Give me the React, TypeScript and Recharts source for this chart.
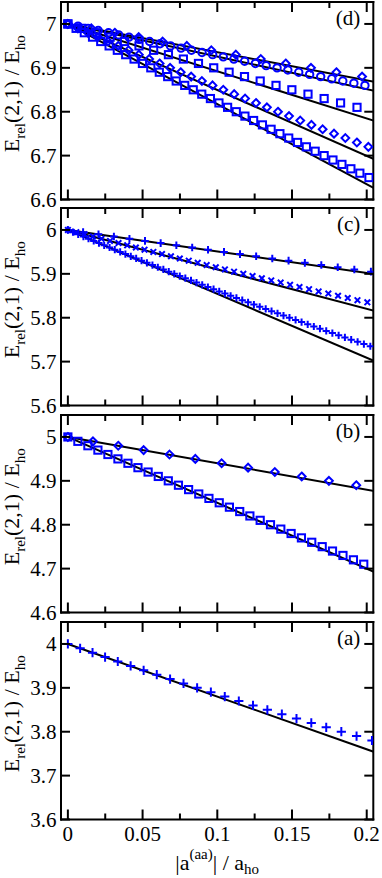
import React from 'react';
import { ComposedChart, Scatter, Line, XAxis, YAxis } from 'recharts';

const FONT = '"Liberation Serif", "Times New Roman", Times, serif';
const BLUE = '#0000ff';
const W = 382;
const PLOT_H = 197.5;
const PAD = 10;
const BOTTOM_PAD = 20;
const LEFT_W = 61;
const RIGHT_W = 8.7;

// ---------- axes ----------
const xDomain: [number, number] = [-0.0046, 0.2044];
const xTicks = [0, 0.025, 0.05, 0.075, 0.1, 0.125, 0.15, 0.175, 0.2];
const xTickLabels = ['0', '', '0.05', '', '0.1', '', '0.15', '', '0.2'];

// ---------- panel (a) ----------
const aPlusX = [0, 0.0082, 0.0165, 0.0249, 0.0334, 0.042, 0.0507, 0.0595, 0.0684, 0.0774, 0.0865, 0.0957, 0.105, 0.1144, 0.1239, 0.1335, 0.1432, 0.153, 0.1629, 0.1729, 0.183, 0.1932, 0.2035];
const aPlusY = [4.0, 3.99, 3.98, 3.97, 3.96, 3.95, 3.94, 3.93, 3.92, 3.91, 3.9, 3.89, 3.88, 3.87, 3.86, 3.85, 3.84, 3.83, 3.82, 3.81, 3.8, 3.79, 3.78];
const aLineX = [0, 0.21];
const aLineY = [4.0, 3.748];
const aTicks = [3.6, 3.7, 3.8, 3.9, 4];

// ---------- panel (b) ----------
const bSquareX = [0, 0.0067, 0.0134, 0.0201, 0.0268, 0.0335, 0.0402, 0.0469, 0.0537, 0.0605, 0.0672, 0.074, 0.0808, 0.0876, 0.0944, 0.1013, 0.1081, 0.115, 0.1218, 0.1287, 0.1356, 0.1425, 0.1494, 0.1563, 0.1632, 0.1702, 0.1771, 0.1841, 0.1911, 0.198];
const bSquareY = [5.0, 4.99, 4.98, 4.97, 4.96, 4.95, 4.94, 4.93, 4.92, 4.91, 4.9, 4.89, 4.88, 4.87, 4.86, 4.85, 4.84, 4.83, 4.82, 4.81, 4.8, 4.79, 4.78, 4.77, 4.76, 4.75, 4.74, 4.73, 4.72, 4.71];
const bDiamondX = [0, 0.0168, 0.0337, 0.0507, 0.068, 0.0853, 0.1029, 0.1206, 0.1385, 0.1565, 0.1747, 0.193];
const bDiamondY = [5.0, 4.99, 4.98, 4.97, 4.96, 4.95, 4.94, 4.93, 4.92, 4.91, 4.9, 4.89];
const bLine1X = [0, 0.21];
const bLine1Y = [5.0, 4.874];
const bLine2X = [0, 0.21];
const bLine2Y = [5.0, 4.685];
const bTicks = [4.6, 4.7, 4.8, 4.9, 5];

// ---------- panel (c) ----------
const cPlusUpperX = [0, 0.0102, 0.0205, 0.0308, 0.0412, 0.0516, 0.0621, 0.0726, 0.0832, 0.0938, 0.1045, 0.1152, 0.126, 0.1368, 0.1477, 0.1586, 0.1696, 0.1806, 0.1917, 0.2028];
const cPlusUpperY = [6.0, 5.995, 5.99, 5.985, 5.98, 5.975, 5.97, 5.965, 5.96, 5.955, 5.95, 5.945, 5.94, 5.935, 5.93, 5.925, 5.92, 5.915, 5.91, 5.905];
const cCrossX = [0, 0.0056, 0.0112, 0.0168, 0.0225, 0.0282, 0.0339, 0.0397, 0.0455, 0.0513, 0.0572, 0.063, 0.069, 0.0749, 0.0809, 0.0869, 0.0929, 0.099, 0.1051, 0.1112, 0.1174, 0.1236, 0.1298, 0.1361, 0.1424, 0.1487, 0.155, 0.1614, 0.1678, 0.1743, 0.1808, 0.1873, 0.1938, 0.2004];
const cCrossY = [6.0, 5.995, 5.99, 5.985, 5.98, 5.975, 5.97, 5.965, 5.96, 5.955, 5.95, 5.945, 5.94, 5.935, 5.93, 5.925, 5.92, 5.915, 5.91, 5.905, 5.9, 5.895, 5.89, 5.885, 5.88, 5.875, 5.87, 5.865, 5.86, 5.855, 5.85, 5.845, 5.84, 5.835];
const cPlusLowerX = [0, 0.0034, 0.0069, 0.0104, 0.0138, 0.0173, 0.0208, 0.0243, 0.0279, 0.0314, 0.035, 0.0385, 0.0421, 0.0457, 0.0493, 0.0529, 0.0566, 0.0602, 0.0639, 0.0675, 0.0712, 0.0749, 0.0786, 0.0824, 0.0861, 0.0899, 0.0937, 0.0975, 0.1013, 0.1051, 0.1089, 0.1128, 0.1167, 0.1206, 0.1245, 0.1284, 0.1324, 0.1363, 0.1403, 0.1443, 0.1483, 0.1524, 0.1564, 0.1605, 0.1646, 0.1687, 0.1729, 0.177, 0.1812, 0.1854, 0.1896, 0.1939, 0.1981, 0.2024];
const cPlusLowerY = [6.0, 5.995, 5.99, 5.985, 5.98, 5.975, 5.97, 5.965, 5.96, 5.955, 5.95, 5.945, 5.94, 5.935, 5.93, 5.925, 5.92, 5.915, 5.91, 5.905, 5.9, 5.895, 5.89, 5.885, 5.88, 5.875, 5.87, 5.865, 5.86, 5.855, 5.85, 5.845, 5.84, 5.835, 5.83, 5.825, 5.82, 5.815, 5.81, 5.805, 5.8, 5.795, 5.79, 5.785, 5.78, 5.775, 5.77, 5.765, 5.76, 5.755, 5.75, 5.745, 5.74, 5.735];
const cLine1X = [0, 0.21];
const cLine1Y = [6.0, 5.8971];
const cLine2X = [0, 0.21];
const cLine2Y = [6.0, 5.8112];
const cLine3X = [0, 0.21];
const cLine3Y = [6.0, 5.6942];
const cTicks = [5.6, 5.7, 5.8, 5.9, 6];

// ---------- panel (d) ----------
const dDiamondX = [0, 0.0157, 0.0314, 0.0474, 0.0634, 0.0796, 0.096, 0.1124, 0.1291, 0.1458, 0.1627, 0.1797, 0.1969];
const dDiamondY = [7.0, 6.99, 6.98, 6.97, 6.96, 6.95, 6.94, 6.93, 6.92, 6.91, 6.9, 6.89, 6.88];
const dCircleX = [0, 0.0068, 0.0135, 0.0203, 0.0272, 0.034, 0.0409, 0.0478, 0.0547, 0.0617, 0.0687, 0.0757, 0.0827, 0.0898, 0.0969, 0.104, 0.1111, 0.1183, 0.1255, 0.1327, 0.14, 0.1472, 0.1545, 0.1618, 0.1692, 0.1766, 0.184, 0.1914, 0.1988];
const dCircleY = [7.0, 6.995, 6.99, 6.985, 6.98, 6.975, 6.97, 6.965, 6.96, 6.955, 6.95, 6.945, 6.94, 6.935, 6.93, 6.925, 6.92, 6.915, 6.91, 6.905, 6.9, 6.895, 6.89, 6.885, 6.88, 6.875, 6.87, 6.865, 6.86];
const dSquareUpperX = [0, 0.0093, 0.0188, 0.0283, 0.0379, 0.0476, 0.0574, 0.0673, 0.0773, 0.0874, 0.0976, 0.1079, 0.1182, 0.1287, 0.1393, 0.1499, 0.1607, 0.1715, 0.1825, 0.1935];
const dSquareUpperY = [7.0, 6.99, 6.98, 6.97, 6.96, 6.95, 6.94, 6.93, 6.92, 6.91, 6.9, 6.89, 6.88, 6.87, 6.86, 6.85, 6.84, 6.83, 6.82, 6.81];
const dDiamondLowerX = [0, 0.0067, 0.0134, 0.0201, 0.0269, 0.0337, 0.0406, 0.0475, 0.0544, 0.0614, 0.0684, 0.0755, 0.0825, 0.0897, 0.0968, 0.104, 0.1113, 0.1186, 0.1259, 0.1332, 0.1406, 0.148, 0.1555, 0.163, 0.1705, 0.1781, 0.1857, 0.1934, 0.2011];
const dDiamondLowerY = [7.0, 6.99, 6.98, 6.97, 6.96, 6.95, 6.94, 6.93, 6.92, 6.91, 6.9, 6.89, 6.88, 6.87, 6.86, 6.85, 6.84, 6.83, 6.82, 6.81, 6.8, 6.79, 6.78, 6.77, 6.76, 6.75, 6.74, 6.73, 6.72];
const dSquareLowerX = [0, 0.0055, 0.011, 0.0165, 0.022, 0.0276, 0.0331, 0.0387, 0.0443, 0.0499, 0.0555, 0.0612, 0.0668, 0.0725, 0.0782, 0.0839, 0.0896, 0.0954, 0.1011, 0.1069, 0.1127, 0.1185, 0.1243, 0.1302, 0.136, 0.1419, 0.1478, 0.1537, 0.1596, 0.1655, 0.1715, 0.1774, 0.1834, 0.1894, 0.1954, 0.2015];
const dSquareLowerY = [7.0, 6.99, 6.98, 6.97, 6.96, 6.95, 6.94, 6.93, 6.92, 6.91, 6.9, 6.89, 6.88, 6.87, 6.86, 6.85, 6.84, 6.83, 6.82, 6.81, 6.8, 6.79, 6.78, 6.77, 6.76, 6.75, 6.74, 6.73, 6.72, 6.71, 6.7, 6.69, 6.68, 6.67, 6.66, 6.65];
const dLine1X = [0, 0.21];
const dLine1Y = [7.0, 6.8652];
const dLine2X = [0, 0.21];
const dLine2Y = [7.0, 6.8442];
const dLine3X = [0, 0.21];
const dLine3Y = [7.0, 6.7738];
const dLine4X = [0, 0.21];
const dLine4Y = [7.0, 6.6842];
const dLine5X = [0, 0.21];
const dLine5Y = [7.0, 6.6163];
const dTicks = [6.6, 6.7, 6.8, 6.9, 7];

type Pt = { x: number; y: number };
const zip = (xs: number[], ys: number[]): Pt[] => xs.map((x, i) => ({ x, y: ys[i] }));

// ---------- marker shapes ----------
const plusShape = (s: number) => (p: any) => (
  <path d={`M${p.cx - s},${p.cy}H${p.cx + s}M${p.cx},${p.cy - s}V${p.cy + s}`} stroke={BLUE} strokeWidth={2} fill="none" />
);
const crossShape = (s: number) => (p: any) => (
  <path d={`M${p.cx - s},${p.cy - s}L${p.cx + s},${p.cy + s}M${p.cx + s},${p.cy - s}L${p.cx - s},${p.cy + s}`} stroke={BLUE} strokeWidth={2} fill="none" />
);
const squareShape = (h: number) => (p: any) => (
  <rect x={p.cx - h} y={p.cy - h} width={2 * h} height={2 * h} stroke={BLUE} strokeWidth={2} fill="none" />
);
const diamondShape = (h: number) => (p: any) => (
  <path d={`M${p.cx},${p.cy - h}L${p.cx + h},${p.cy}L${p.cx},${p.cy + h}L${p.cx - h},${p.cy}Z`} stroke={BLUE} strokeWidth={2} fill="none" />
);
const circleShape = (r: number) => (p: any) => (
  <circle cx={p.cx} cy={p.cy} r={r} stroke={BLUE} strokeWidth={2} fill="none" />
);

// ---------- ticks ----------
const isMajor = (v: number) => Math.round(v * 1000) % 50 === 0;

const bottomTick = (showLabel: boolean) => (p: any) => {
  const v = p.payload.value;
  const major = isMajor(v);
  const idx = xTicks.indexOf(v);
  return (
    <g>
      <line x1={p.x} x2={p.x} y1={p.y} y2={p.y - (major ? 10 : 6)} stroke="#000" strokeWidth={2} />
      {showLabel && major ? (
        <text x={p.x} y={p.y + 21} textAnchor="middle" fontFamily={FONT} fontSize={21} fill="#000">
          {xTickLabels[idx]}
        </text>
      ) : null}
    </g>
  );
};
const topTick = (p: any) => {
  const major = isMajor(p.payload.value);
  return <line x1={p.x} x2={p.x} y1={p.y} y2={p.y + (major ? 10 : 6)} stroke="#000" strokeWidth={2} />;
};
const leftTick = (p: any) => (
  <g>
    <line x1={p.x} x2={p.x + 9} y1={p.y} y2={p.y} stroke="#000" strokeWidth={2} />
    <text x={p.x - 4.5} y={p.y + 7} textAnchor="end" fontFamily={FONT} fontSize={21} fill="#000">
      {String(p.payload.value)}
    </text>
  </g>
);
const rightTick = (p: any) => <line x1={p.x} x2={p.x - 9} y1={p.y} y2={p.y} stroke="#000" strokeWidth={2} />;

// ---------- labels ----------
const yLabel = (props: any) => {
  const vb = props.viewBox || { x: 0, y: PAD, width: LEFT_W, height: PLOT_H };
  const cy = vb.y + vb.height / 2 - 7;
  const bx = 18.5;
  return (
    <text transform={`rotate(-90 ${bx} ${cy})`} x={bx} y={cy} textAnchor="middle" fontFamily={FONT} fontSize={22} fill="#000">
      E<tspan fontSize={15} dy={6}>rel</tspan>
      <tspan dy={-6}>(2,1) / E</tspan>
      <tspan fontSize={15} dy={6}>ho</tspan>
    </text>
  );
};
const panelTag = (tag: string) => (props: any) => {
  const vb = props.viewBox || { x: W - RIGHT_W, y: PAD, width: RIGHT_W, height: PLOT_H };
  return (
    <text x={vb.x - 13} y={vb.y + 23} textAnchor="end" fontFamily={FONT} fontSize={21} fill="#000">
      {tag}
    </text>
  );
};
const xLabel = (props: any) => {
  const vb = props.viewBox || { x: LEFT_W, y: PAD + PLOT_H, width: W - LEFT_W - RIGHT_W, height: 58 };
  const cx = vb.x + vb.width / 2;
  return (
    <text x={cx} y={vb.y + 50} textAnchor="middle" fontFamily={FONT} fontSize={22} fill="#000">
      |a<tspan fontSize={15} dy={-11}>(aa)</tspan>
      <tspan dy={11}>| / a</tspan>
      <tspan fontSize={15} dy={4}>ho</tspan>
    </text>
  );
};

type Marker = { data: Pt[]; shape: (p: any) => React.ReactElement };
type PanelProps = {
  tag: string;
  plotBottom: number;
  yDomain: [number, number];
  yTicks: number[];
  markers: Marker[];
  lines: Pt[][];
  withXLabels?: boolean;
};

const axisLine = { stroke: '#000', strokeWidth: 2, strokeLinecap: 'square' as const };

function Panel({ tag, plotBottom, yDomain, yTicks, markers, lines, withXLabels }: PanelProps) {
  const bottomH = withXLabels ? 58 : BOTTOM_PAD;
  const H = PAD + PLOT_H + bottomH;
  const top = plotBottom - PLOT_H - PAD;
  return (
    <div style={{ position: 'absolute', left: 0, top, width: W, height: H }}>
      <ComposedChart width={W} height={H} margin={{ top: 0, right: 0, bottom: 0, left: 0 }} style={{ overflow: 'visible' }}>
        <XAxis
          xAxisId="x"
          type="number"
          dataKey="x"
          domain={xDomain}
          allowDataOverflow
          ticks={xTicks}
          interval={0}
          orientation="bottom"
          height={bottomH}
          tickSize={0}
          tickMargin={0}
          tickLine={false}
          axisLine={axisLine}
          tick={bottomTick(!!withXLabels)}
          label={withXLabels ? { content: xLabel } : undefined}
        />
        <XAxis
          xAxisId="xt"
          type="number"
          dataKey="x"
          domain={xDomain}
          allowDataOverflow
          ticks={xTicks}
          interval={0}
          orientation="top"
          height={PAD}
          tickSize={0}
          tickMargin={0}
          tickLine={false}
          axisLine={axisLine}
          tick={topTick}
        />
        <YAxis
          yAxisId="y"
          type="number"
          domain={yDomain}
          allowDataOverflow
          ticks={yTicks}
          interval={0}
          orientation="left"
          width={LEFT_W}
          tickSize={0}
          tickMargin={0}
          tickLine={false}
          axisLine={axisLine}
          tick={leftTick}
          label={{ content: yLabel }}
        />
        <YAxis
          yAxisId="yr"
          type="number"
          domain={yDomain}
          allowDataOverflow
          ticks={yTicks}
          interval={0}
          orientation="right"
          width={RIGHT_W}
          tickSize={0}
          tickMargin={0}
          tickLine={false}
          axisLine={axisLine}
          tick={rightTick}
          label={{ content: panelTag(tag) }}
        />
        {markers.map((m, i) => (
          <Scatter
            key={`s${i}`}
            xAxisId="x"
            yAxisId="y"
            data={m.data}
            dataKey="y"
            shape={m.shape}
            isAnimationActive={false}
          />
        ))}
        {lines.map((l, i) => (
          <Line
            key={`l${i}`}
            xAxisId="x"
            yAxisId="y"
            data={l}
            dataKey="y"
            type="linear"
            dot={false}
            activeDot={false}
            stroke="#000"
            strokeWidth={2}
            isAnimationActive={false}
          />
        ))}
      </ComposedChart>
    </div>
  );
}

export default function App() {
  return (
    <div style={{ position: 'absolute', left: 0, top: 0, width: W, height: 878, background: '#fff', overflow: 'hidden' }}>
      <Panel
        tag="(d)"
        plotBottom={199}
        yDomain={[6.6, 7.05]}
        yTicks={dTicks}
        markers={[
          { data: zip(dDiamondX, dDiamondY), shape: diamondShape(3.9) },
          { data: zip(dCircleX, dCircleY), shape: circleShape(3.7) },
          { data: zip(dSquareUpperX, dSquareUpperY), shape: squareShape(3.6) },
          { data: zip(dDiamondLowerX, dDiamondLowerY), shape: diamondShape(3.9) },
          { data: zip(dSquareLowerX, dSquareLowerY), shape: squareShape(3.6) },
        ]}
        lines={[zip(dLine1X, dLine1Y), zip(dLine2X, dLine2Y), zip(dLine3X, dLine3Y), zip(dLine4X, dLine4Y), zip(dLine5X, dLine5Y)]}
      />
      <Panel
        tag="(c)"
        plotBottom={405.8}
        yDomain={[5.6, 6.05]}
        yTicks={cTicks}
        markers={[
          { data: zip(cPlusUpperX, cPlusUpperY), shape: plusShape(3.8) },
          { data: zip(cCrossX, cCrossY), shape: crossShape(2.8) },
          { data: zip(cPlusLowerX, cPlusLowerY), shape: plusShape(3.6) },
        ]}
        lines={[zip(cLine1X, cLine1Y), zip(cLine2X, cLine2Y), zip(cLine3X, cLine3Y)]}
      />
      <Panel
        tag="(b)"
        plotBottom={612.5}
        yDomain={[4.6, 5.05]}
        yTicks={bTicks}
        markers={[
          { data: zip(bDiamondX, bDiamondY), shape: diamondShape(3.9) },
          { data: zip(bSquareX, bSquareY), shape: squareShape(3.6) },
        ]}
        lines={[zip(bLine1X, bLine1Y), zip(bLine2X, bLine2Y)]}
      />
      <Panel
        tag="(a)"
        plotBottom={819.3}
        yDomain={[3.6, 4.05]}
        yTicks={aTicks}
        markers={[{ data: zip(aPlusX, aPlusY), shape: plusShape(4.6) }]}
        lines={[zip(aLineX, aLineY)]}
        withXLabels
      />
    </div>
  );
}
